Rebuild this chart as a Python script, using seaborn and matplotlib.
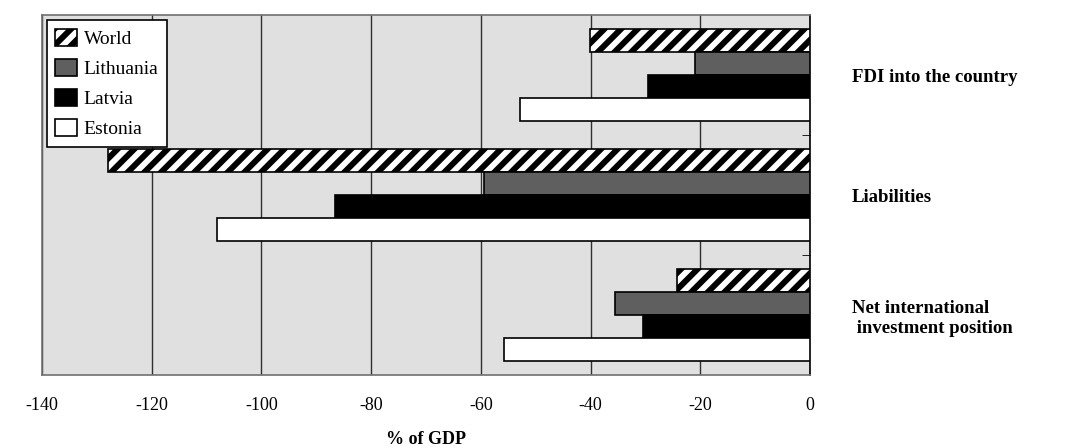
import pandas as pd
import matplotlib
matplotlib.use('Agg')
import matplotlib.pyplot as plt
from matplotlib.patches import Patch
import seaborn as sns

# Data (% of GDP)
categories = ['FDI into the country', 'Liabilities', 'Net international\n investment position']
countries = ['World', 'Lithuania', 'Latvia', 'Estonia']
world = [-40.1, -127.9, -24.3]
lithuania = [-20.9, -59.4, -35.6]
latvia = [-29.5, -86.5, -30.5]
estonia = [-52.9, -108.1, -55.7]
x_ticks = [-140, -120, -100, -80, -60, -40, -20, 0]

rows = []
for name, vals in zip(countries, [world, lithuania, latvia, estonia]):
    for cat, v in zip(categories, vals):
        rows.append({'Category': cat, 'Country': name, 'Value': v})
df = pd.DataFrame(rows)

sns.set_style('white')
plt.rcParams['font.family'] = ['Liberation Serif', 'DejaVu Serif']
plt.rcParams['hatch.linewidth'] = 4.3
plt.rcParams['hatch.color'] = 'black'
plt.rcParams['text.color'] = 'black'
plt.rcParams['xtick.color'] = 'black'
plt.rcParams['ytick.color'] = 'black'
plt.rcParams['axes.labelcolor'] = 'black'

fill = {'World': 'white', 'Lithuania': '#5f5f5f', 'Latvia': 'black', 'Estonia': 'white'}

fig = plt.figure(figsize=(10.75, 4.48), dpi=100)
ax = fig.add_axes([42 / 1075, 1 - 375 / 448, 768 / 1075, 360 / 448])
ax.set_facecolor('#e0e0e0')

sns.barplot(data=df, x='Value', y='Category', hue='Country', hue_order=countries,
            order=categories, palette=fill, orient='h', width=0.77,
            edgecolor='black', linewidth=1.2, saturation=1, dodge=True,
            legend=False, ax=ax, zorder=3)

# hatch the World bars
for bar in ax.containers[0]:
    bar.set_hatch('//')

ax.set_xlim(-140, 0)
ax.set_ylim(2.5, -0.5)
ax.set_xticks(x_ticks)
ax.set_xticklabels([str(t) for t in x_ticks], fontsize=13)
ax.tick_params(axis='x', direction='out', length=6, color='#404040', pad=10)
ax.grid(axis='x', color='#303030', linewidth=1, zorder=0)
ax.set_axisbelow(True)

ax.yaxis.tick_right()
ax.set_ylabel('')
ax.tick_params(axis='y', which='major', length=0, pad=30)
for lab in ax.get_yticklabels():
    lab.set_fontweight('bold')
    lab.set_fontsize(13.5)
    lab.set_horizontalalignment('left')
ax.set_yticks([0.5, 1.5], minor=True)
ax.tick_params(axis='y', which='minor', direction='in', length=6, right=True, left=False, color='black')

for s in ax.spines.values():
    s.set_color('#707070')
    s.set_linewidth(1.2)
ax.spines['right'].set_color('black')

ax.set_xlabel('% of GDP', fontsize=13, fontweight='bold', labelpad=12)

handles = [Patch(facecolor=fill[c], edgecolor='black', hatch='//' if c == 'World' else None,
                 linewidth=1.2) for c in countries]
leg = ax.legend(handles, countries, loc='upper left', bbox_to_anchor=(0.006, 0.986),
                borderaxespad=0, fontsize=14, frameon=True, fancybox=False,
                handlelength=1.1, handleheight=1.0, handletextpad=0.35,
                labelspacing=0.55, borderpad=0.45, edgecolor='black', framealpha=1)
leg.get_frame().set_linewidth(1.2)
leg.set_zorder(5)

fig.savefig('out.png', dpi=100)
